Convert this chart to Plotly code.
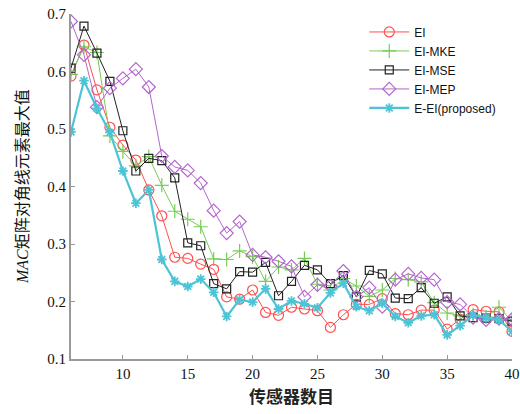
import plotly.graph_objects as go

sensors = list(range(6, 41))

ei = [0.592, 0.646, 0.568, 0.503, 0.472, 0.446, 0.394, 0.349, 0.277, 0.275,
      0.265, 0.256, 0.208, 0.204, 0.220, 0.181, 0.176, 0.190, 0.187, 0.184,
      0.155, 0.177, 0.195, 0.195, 0.205, 0.179, 0.177, 0.185, 0.185, 0.152,
      0.169, 0.186, 0.183, 0.182, 0.148]
ei_mke = [0.595, 0.643, 0.633, 0.488, 0.461, 0.436, 0.452, 0.402, 0.357, 0.343,
          0.330, 0.274, 0.273, 0.288, 0.278, 0.235, 0.260, 0.255, 0.275, 0.230,
          0.220, 0.240, 0.227, 0.209, 0.220, 0.240, 0.238, 0.234, 0.198, 0.180,
          0.175, 0.177, 0.173, 0.190, 0.166]
ei_mse = [0.606, 0.679, 0.632, 0.583, 0.497, 0.427, 0.449, 0.445, 0.415, 0.302,
          0.297, 0.231, 0.222, 0.252, 0.251, 0.268, 0.210, 0.235, 0.263, 0.255,
          0.231, 0.245, 0.208, 0.254, 0.248, 0.206, 0.205, 0.224, 0.197, 0.208,
          0.175, 0.172, 0.171, 0.170, 0.166]
ei_mep = [0.687, 0.629, 0.538, 0.571, 0.588, 0.604, 0.573, 0.453, 0.434, 0.428,
          0.406, 0.358, 0.319, 0.339, 0.281, 0.277, 0.270, 0.261, 0.208, 0.229,
          0.227, 0.253, 0.208, 0.224, 0.191, 0.238, 0.248, 0.241, 0.238, 0.199,
          0.195, 0.172, 0.168, 0.170, 0.169]
e_ei = [0.495, 0.584, 0.536, 0.494, 0.427, 0.371, 0.394, 0.273, 0.235, 0.226,
        0.239, 0.216, 0.174, 0.203, 0.199, 0.222, 0.187, 0.201, 0.196, 0.189,
        0.215, 0.232, 0.191, 0.184, 0.197, 0.174, 0.163, 0.175, 0.177, 0.142,
        0.158, 0.176, 0.172, 0.168, 0.148]

x_ticks = [10, 15, 20, 25, 30, 35, 40]
y_ticks = [0.1, 0.2, 0.3, 0.4, 0.5, 0.6, 0.7]

series = [
    ("EI", ei, "#ff4f4f", "circle-open", 10, 1),
    ("EI-MKE", ei_mke, "#77cc55", "cross-thin-open", 10, 1),
    ("EI-MSE", ei_mse, "#222222", "square-open", 8, 1),
    ("EI-MEP", ei_mep, "#b266cc", "diamond-open", 10, 1),
    ("E-EI(proposed)", e_ei, "#4cc4d6", "asterisk-open", 8, 2.2),
]

fig = go.Figure()
for name, vals, color, sym, size, lw in series:
    fig.add_trace(go.Scatter(
        x=sensors, y=vals, name=name, mode="lines+markers",
        line=dict(color=color, width=lw),
        marker=dict(symbol=sym, size=size, color=color,
                    line=dict(color=color, width=1.2 if lw < 2 else 1.8)),
    ))

axis_font = dict(family="Liberation Serif, Times New Roman, serif", size=15, color="#111")

fig.update_layout(
    width=520, height=414,
    margin=dict(l=71, r=8, t=14, b=55),
    paper_bgcolor="white", plot_bgcolor="white",
    showlegend=True,
    legend=dict(x=0.665, y=0.99, xanchor="left", yanchor="top",
                bgcolor="rgba(255,255,255,0)", borderwidth=0,
                font=dict(family="Liberation Sans, Arial, sans-serif", size=12, color="#111"),
                tracegroupgap=0, itemwidth=40),
    xaxis=dict(range=[6, 40], tickvals=x_ticks, ticktext=[str(v) for v in x_ticks],
               showgrid=False, zeroline=False, showline=True, linecolor="#999",
               linewidth=2, ticks="inside", ticklen=4, tickcolor="#999",
               tickfont=axis_font, automargin=False),
    yaxis=dict(range=[0.1, 0.7], tickvals=y_ticks, ticktext=[f"{v:.1f}" for v in y_ticks],
               showgrid=False, zeroline=False, showline=True, linecolor="#999",
               linewidth=2, ticks="inside", ticklen=4, tickcolor="#999",
               tickfont=axis_font, automargin=False),
    annotations=[
        dict(text="<b>传感器数目</b>", xref="paper", yref="paper", x=0.5, y=-0.105,
             xanchor="center", yanchor="middle", showarrow=False,
             font=dict(family="Noto Sans CJK SC", size=17, color="#222")),
        dict(text="<i>MAC</i>矩阵对角线元素最大值", xref="paper", yref="paper",
             x=-0.11, y=0.5, xanchor="center", yanchor="middle", showarrow=False,
             textangle=-90,
             font=dict(family="Liberation Serif, Noto Sans CJK SC", size=16, color="#111")),
    ],
)

fig.write_html("out.html", config={"displayModeBar": False},
               post_script="document.body.style.margin='0';")
